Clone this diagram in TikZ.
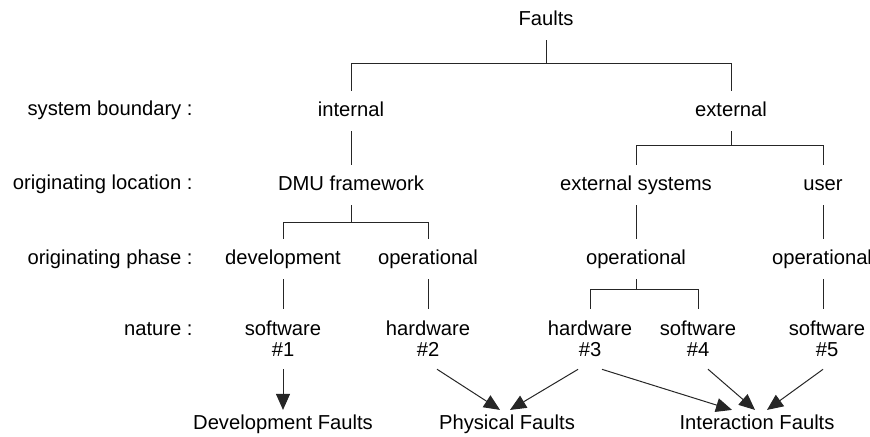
\documentclass[tikz,border=0pt]{standalone}
\usepackage{fontspec}
\setmainfont{Liberation Sans}
\usetikzlibrary{arrows.meta,calc}

\tikzset{
	lbl/.style={font=\fontsize{10.1}{10.5}\selectfont,inner xsep=1pt,inner ysep=5pt,text height=7.5pt,text depth=2.2pt},
	twoline/.style={font=\fontsize{10.1}{10.5}\selectfont,align=center,inner xsep=1pt,inner ysep=6pt},
	sink/.style={lbl,inner ysep=2pt},
	level/.style={lbl,anchor=east,inner xsep=0pt},
	conn/.style={draw=black!85,line width=0.5pt},
	arr/.style={conn,-{Triangle[length=8pt,width=7pt]}}
}

\begin{document}
\begin{tikzpicture}[x=0.5pt,y=-0.5pt]
		\useasboundingbox (0,0) rectangle (870,436);
		% levels
		\node [level] (l1) at (193,110) {system boundary :};
		\node [level] (l2) at (193,184) {originating location :};
		\node [level] (l3) at (193,259) {originating phase :};
		\node [level] (l4) at (193,330) {nature :};
		% tree
		\node [lbl] (faults) at (546,20) {Faults};
		\node [lbl] (internal) at (351,111) {internal};
		\node [lbl] (external) at (731,111) {external};
		\node [lbl] (dmu) at (351,185) {DMU framework};
		\node [lbl] (extsys) at (636,185) {external systems};
		\node [lbl] (user) at (823,185) {user};
		\node [lbl] (dev) at (283,259) {development};
		\node [lbl] (opint) at (428,259) {operational};
		\node [lbl] (opext) at (636,259) {operational};
		\node [lbl] (opuser) at (822,259) {operational};
		\node [twoline] (sw1) at (283,339) {software\\\#1};
		\node [twoline] (hw2) at (428,339) {hardware\\\#2};
		\node [twoline] (hw3) at (590,339) {hardware\\\#3};
		\node [twoline] (sw4) at (698,339) {software\\\#4};
		\node [twoline] (sw5) at (827,339) {software\\\#5};
		\node [sink] (devf) at (283,424) {Development Faults};
		\node [sink] (physf) at (507,424) {Physical Faults};
		\node [sink] (interf) at (757,424) {Interaction Faults};
		% bus lines
		\coordinate (b1) at (0,63);
		\coordinate (b2) at (0,145);
		\coordinate (b3) at (0,222);
		\coordinate (b4) at (0,289);
		\draw [conn] (faults.south) -- (faults.south |- b1);
		\draw [conn] (internal.north) |- (b1 -| external.north) -- (external.north);
		\draw [conn] (internal) -- (dmu);
		\draw [conn] (external.south) -- (external.south |- b2);
		\draw [conn] (extsys.north) |- (b2 -| user.north) -- (user.north);
		\draw [conn] (dmu.south) -- (dmu.south |- b3);
		\draw [conn] (dev.north) |- (b3 -| opint.north) -- (opint.north);
		\draw [conn] (extsys) -- (opext);
		\draw [conn] (user.south) -- (user.south |- opuser.north);
		\draw [conn] (dev) -- (sw1);
		\draw [conn] (opint) -- (hw2);
		\draw [conn] (opext.south) -- (opext.south |- b4);
		\draw [conn] (hw3.north) |- (b4 -| sw4.north) -- (sw4.north);
		\draw [conn] (opuser.south -| user) -- (user |- sw5.north);
		% arrows
		\draw [arr] (sw1) -- (devf);
		\draw [arr] ([xshift=4.5pt]hw2.south) -- ([xshift=-3.5pt]physf.north);
		\draw [arr] ([xshift=-6pt]hw3.south) -- ([xshift=1.5pt]physf.north);
		\draw [arr] ([xshift=6pt]hw3.south) -- ([xshift=-12.5pt]interf.north);
		\draw [arr] ([xshift=5pt]sw4.south) -- ([xshift=-1pt]interf.north);
		\draw [arr] ([xshift=-2pt]sw5.south) -- ([xshift=5pt]interf.north);
	\end{tikzpicture}
\end{document}
